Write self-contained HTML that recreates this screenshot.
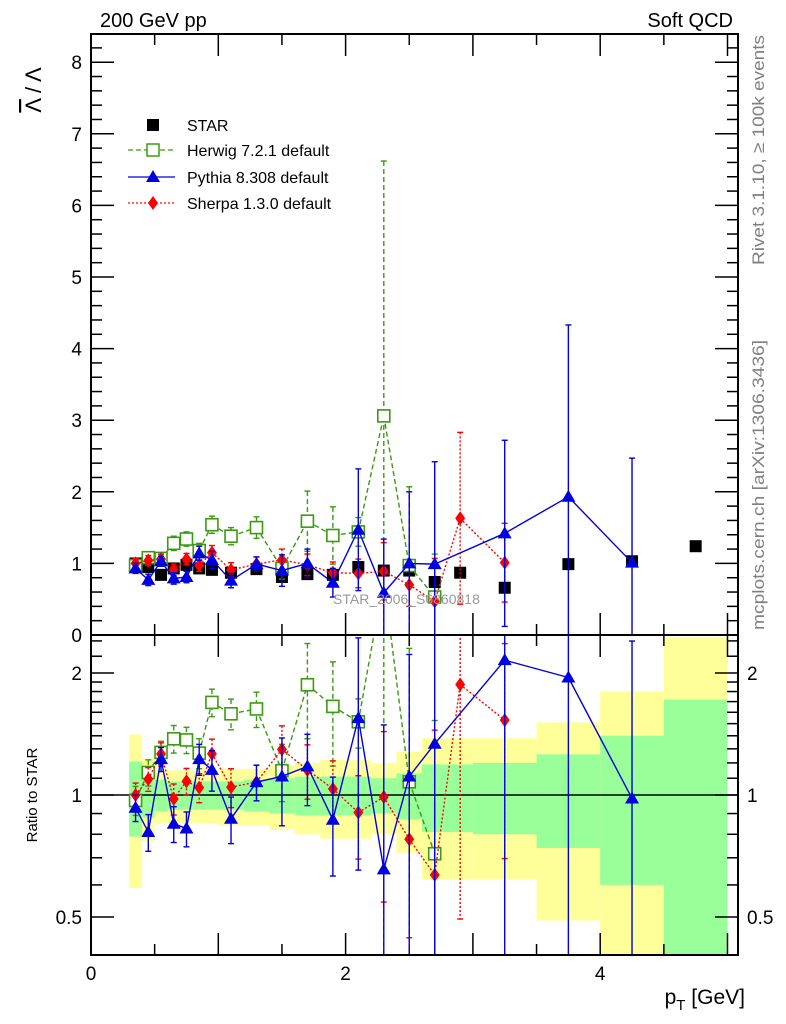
<!DOCTYPE html>
<html><head><meta charset="utf-8"><style>
html,body{margin:0;padding:0;background:#fff;width:786px;height:1024px;overflow:hidden}
svg{font-family:"Liberation Sans",sans-serif;display:block}
</style></head><body>
<svg id="c" width="786" height="1024" xmlns="http://www.w3.org/2000/svg">
<defs>
<clipPath id="cm"><rect x="91" y="34" width="647" height="601"/></clipPath>
<clipPath id="cr"><rect x="91" y="635" width="647" height="320"/></clipPath>
</defs>
<g id="bands" clip-path="url(#cr)"></g>
<g id="ticks"></g>
<line x1="91" y1="795" x2="738" y2="795" stroke="#000" stroke-width="1.5"/>
<g id="mainMarks" clip-path="url(#cm)"></g>
<g id="ratioMarks" clip-path="url(#cr)"></g>
<rect x="91" y="34" width="647" height="601" fill="none" stroke="#000" stroke-width="2"/>
<rect x="91" y="635" width="647" height="320" fill="none" stroke="#000" stroke-width="2"/>
<text x="100" y="27" font-size="20">200 GeV pp</text>
<text x="733" y="27" font-size="20" text-anchor="end">Soft QCD</text>
<text transform="translate(41,90) rotate(-90)" font-size="22" text-anchor="middle"><tspan text-decoration="overline">Λ</tspan> / Λ</text>
<text transform="translate(37,795) rotate(-90)" font-size="15" text-anchor="middle">Ratio to STAR</text>
<text x="745" y="1004" font-size="21" text-anchor="end">p<tspan font-size="15" dy="6">T</tspan><tspan dy="-6"> [GeV]</tspan></text>
<text transform="translate(764,265) rotate(-90)" font-size="17" textLength="230" lengthAdjust="spacingAndGlyphs" fill="#808080">Rivet 3.1.10, ≥ 100k events</text>
<text transform="translate(764,630) rotate(-90)" font-size="17" textLength="290" lengthAdjust="spacingAndGlyphs" fill="#808080">mcplots.cern.ch [arXiv:1306.3436]</text>
<text x="333" y="604" font-size="14" fill="#999">STAR_2006_S6860818</text>
<g font-size="16">
<rect x="147" y="119" width="12" height="12" fill="#000"/>
<text x="187" y="131">STAR</text>
<line x1="128" y1="150" x2="175" y2="150" stroke="#3a9a10" stroke-dasharray="5,3" stroke-width="1.3"/>
<rect x="147" y="144" width="12" height="12" fill="#fff" stroke="#3a9a10" stroke-width="1.5"/>
<text x="187" y="156">Herwig 7.2.1 default</text>
<line x1="128" y1="177" x2="175" y2="177" stroke="#0000e0" stroke-width="1.3"/>
<polygon points="153,170 160,182 146,182" fill="#0000e0"/>
<text x="187" y="183">Pythia 8.308 default</text>
<line x1="128" y1="203" x2="175" y2="203" stroke="#f00" stroke-dasharray="2,2" stroke-width="1.3"/>
<polygon points="153,196 158,203 153,210 148,203" fill="#f00"/>
<text x="187" y="209">Sherpa 1.3.0 default</text>
</g>
</svg>
<script>
const binLo=[0.3,0.4,0.5,0.6,0.7,0.8,0.9,1.0,1.2,1.4,1.6,1.8,2.0,2.2,2.4,2.6,2.8,3.0,3.5,4.0,4.5];
const binHi=[0.4,0.5,0.6,0.7,0.8,0.9,1.0,1.2,1.4,1.6,1.8,2.0,2.2,2.4,2.6,2.8,3.0,3.5,4.0,4.5,5.0];
const starVals=[1.0,0.95,0.84,0.93,0.98,0.93,0.91,0.87,0.92,0.81,0.85,0.84,0.95,0.9,0.9,0.74,0.87,0.66,0.99,1.03,1.24];
const starTotErr=[0.41,0.23,0.15,0.15,0.15,0.15,0.15,0.16,0.16,0.18,0.2,0.22,0.22,0.2,0.28,0.38,0.38,0.38,0.51,0.8,1.45];
const starStatErr=[0.21,0.12,0.09,0.08,0.08,0.08,0.08,0.08,0.09,0.1,0.11,0.11,0.11,0.1,0.13,0.19,0.19,0.2,0.26,0.4,0.72];
const herwigVals=[0.97,1.08,1.07,1.28,1.34,1.18,1.54,1.38,1.50,0.93,1.59,1.39,1.44,3.06,0.97,0.53];
const herwigErr=[0.08,0.08,0.07,0.1,0.1,0.1,0.12,0.12,0.15,0.15,0.42,0.4,0.2,3.56,1.1,0.6];
const pythiaVals=[0.93,0.77,1.03,0.79,0.81,1.14,1.05,0.76,0.99,0.90,1.0,0.73,1.47,0.59,1.0,0.99,null,1.42,1.93,1.01];
const pythiaErr=[0.07,0.08,0.07,0.08,0.08,0.1,0.12,0.1,0.1,0.22,0.2,0.2,0.85,0.75,1.0,1.43,null,1.3,2.4,1.46];
const sherpaVals=[1.0,1.04,1.06,0.91,1.06,0.97,1.15,0.91,0.99,1.05,0.98,0.87,0.86,0.89,0.70,0.47,1.63,1.01];
const sherpaErr=[0.07,0.07,0.07,0.08,0.08,0.08,0.1,0.1,0.1,0.15,0.15,0.15,0.2,0.4,0.3,0.6,1.2,0.55];
const xTicks=[0,2,4];
const yTicks=[0,1,2,3,4,5,6,7,8];
const rTicks=[0.5,1,2];

const NS="http://www.w3.org/2000/svg";
const clampM=y=>Math.min(Math.max(y,30),640);
const clampR=y=>Math.min(Math.max(y,630),960);
const X=v=>91+v*127.3;
const Y=v=>clampM(635-v*71.6);
const R=v=>clampR(795-Math.log2(Math.max(v,0.05))*122);
function mk(p,t,a){const e=document.createElementNS(NS,t);for(const k in a)e.setAttribute(k,a[k]);p.appendChild(e);return e;}
const bands=document.getElementById('bands'),ticks=document.getElementById('ticks');
const mm=document.getElementById('mainMarks'),rm=document.getElementById('ratioMarks'),svg=document.getElementById('c');

for(let i=0;i<binLo.length;i++){
  const yb=mk(bands,'rect',{x:X(binLo[i]),width:X(binHi[i])-X(binLo[i]),y:R(1+starTotErr[i]),height:R(Math.max(1-starTotErr[i],0.05))-R(1+starTotErr[i]),fill:'#ffff99'});
  
  
}
for(let i=0;i<binLo.length;i++){
  const gb=mk(bands,'rect',{x:X(binLo[i]),width:X(binHi[i])-X(binLo[i]),y:R(1+starStatErr[i]),height:R(Math.max(1-starStatErr[i],0.05))-R(1+starStatErr[i]),fill:'#99ff99'});
  
  
}
for(let v=0;v<=5;v+=0.5){
  const L=(v%1===0)?22:11;
  mk(ticks,'line',{x1:X(v),x2:X(v),y1:635,y2:635-L,stroke:'#000','stroke-width':1.5});
  mk(ticks,'line',{x1:X(v),x2:X(v),y1:34,y2:34+L,stroke:'#000','stroke-width':1.5});
  mk(ticks,'line',{x1:X(v),x2:X(v),y1:955,y2:955-L,stroke:'#000','stroke-width':1.5});
  mk(ticks,'line',{x1:X(v),x2:X(v),y1:635,y2:635+L,stroke:'#000','stroke-width':1.5});
}
xTicks.forEach(v=>{const t=mk(svg,'text',{x:X(v),y:980,'font-size':19,'text-anchor':'middle'});t.textContent=v;
  
  });
for(let v=0;v<=8.3;v+=0.2){
  const maj=Math.abs(v-Math.round(v))<1e-6;const L=maj?23:11;
  mk(ticks,'line',{x1:91,x2:91+L,y1:Y(v),y2:Y(v),stroke:'#000','stroke-width':1.5});
  mk(ticks,'line',{x1:738,x2:738-L,y1:Y(v),y2:Y(v),stroke:'#000','stroke-width':1.5});
}
yTicks.forEach(v=>{const t=mk(svg,'text',{x:82,y:Y(v)+7,'font-size':19,'text-anchor':'end'});t.textContent=v;
  
  });
[0.5,0.6,0.7,0.8,0.9,1,1.1,1.2,1.3,1.4,1.5,1.6,1.7,1.8,1.9,2,2.2,2.4].forEach(v=>{
  const L=(v===0.5||v===1||v===2)?23:11;
  mk(ticks,'line',{x1:91,x2:91+L,y1:R(v),y2:R(v),stroke:'#000','stroke-width':1.5});
  mk(ticks,'line',{x1:738,x2:738-L,y1:R(v),y2:R(v),stroke:'#000','stroke-width':1.5});
});
rTicks.forEach(v=>{
  const t=mk(svg,'text',{x:82,y:R(v)+7,'font-size':19,'text-anchor':'end'});t.textContent=v;
  
  
  const t2=mk(svg,'text',{x:747,y:R(v)+7,'font-size':19});t2.textContent=v;
  
  
});
function center(i){return (binLo[i]+binHi[i])/2;}
function marker(g,kind,x,y,col){
  let e;
  if(kind==='sq') e=mk(g,'rect',{x:x-6,y:y-6,width:12,height:12,fill:'#fff',stroke:col,'stroke-width':1.6});
  else if(kind==='tri') e=mk(g,'polygon',{points:`${x},${y-7} ${x+7},${y+5} ${x-7},${y+5}`,fill:col});
  else if(kind==='dia') e=mk(g,'polygon',{points:`${x},${y-7} ${x+5},${y} ${x},${y+7} ${x-5},${y}`,fill:col});
  else e=mk(g,'rect',{x:x-6,y:y-6,width:12,height:12,fill:col});
  return e;
}
function series(name,vals,errs,col,dash,kind){
  [['main',mm],['ratio',rm]].forEach(([pan,g])=>{
    const yf=pan==='main'?(v=>Y(v)):((v,i)=>R(v/starVals[i]));
    const yraw=pan==='main'?(v=>635-v*71.6):((v,i)=>795-Math.log2(v/starVals[i])*122);
    let pts=[];
    vals.forEach((v,i)=>{if(v!==null)pts.push([X(center(i)),yraw(v,i)]);});
    // clip polyline segments that leave the panel by interpolation
    const lo=pan==='main'?34:635, hi=pan==='main'?635:955;
    let segs=[];
    for(let k=0;k+1<pts.length;k++){
      let [x1,y1]=pts[k],[x2,y2]=pts[k+1];
      const cl=(ya,yb,xa,xb,lim)=>xa+(xb-xa)*(lim-ya)/(yb-ya);
      if(y1<lo&&y2<lo)continue;
      if(y1<lo){x1=cl(y1,y2,x1,x2,lo);y1=lo;}
      if(y2<lo){x2=cl(y2,y1,x2,x1,lo);y2=lo;}
      if(y1>hi){x1=cl(y1,y2,x1,x2,hi);y1=hi;}
      if(y2>hi){x2=cl(y2,y1,x2,x1,hi);y2=hi;}
      segs.push(`M${x1},${y1}L${x2},${y2}`);
    }
    const pl=mk(g,'path',{d:segs.join(''),fill:'none',stroke:col,'stroke-width':1.4,'stroke-dasharray':dash});
    
    
    vals.forEach((v,i)=>{
      if(v===null)return;
      const x=X(center(i)),y1=yf(v+errs[i],i),y2=yf(Math.max(v-errs[i],0.001),i);
      const eb=mk(g,'line',{x1:x,x2:x,y1:y1,y2:y2,stroke:col,'stroke-width':1.4,'stroke-dasharray':dash});
      
      
      mk(g,'line',{x1:x-3,x2:x+3,y1:y1,y2:y1,stroke:col,'stroke-width':1.4});
      mk(g,'line',{x1:x-3,x2:x+3,y1:y2,y2:y2,stroke:col,'stroke-width':1.4});
    });
    vals.forEach((v,i)=>{
      if(v===null)return;
      const yy=yraw(v,i);
      if(yy<lo-8||yy>hi+8)return;
      const m=marker(g,kind,X(center(i)),yy,col);
      
      
    });
  });
}
starVals.forEach((v,i)=>{
  const m=marker(mm,'fill',X(center(i)),Y(v),'#000');
  
  
});
series('herwig',herwigVals,herwigErr,'#3a9a10','5,3','sq');
series('sherpa',sherpaVals,sherpaErr,'#ff0000','2,2','dia');
series('pythia',pythiaVals,pythiaErr,'#0000e0','none','tri');
</script>
</body></html>
